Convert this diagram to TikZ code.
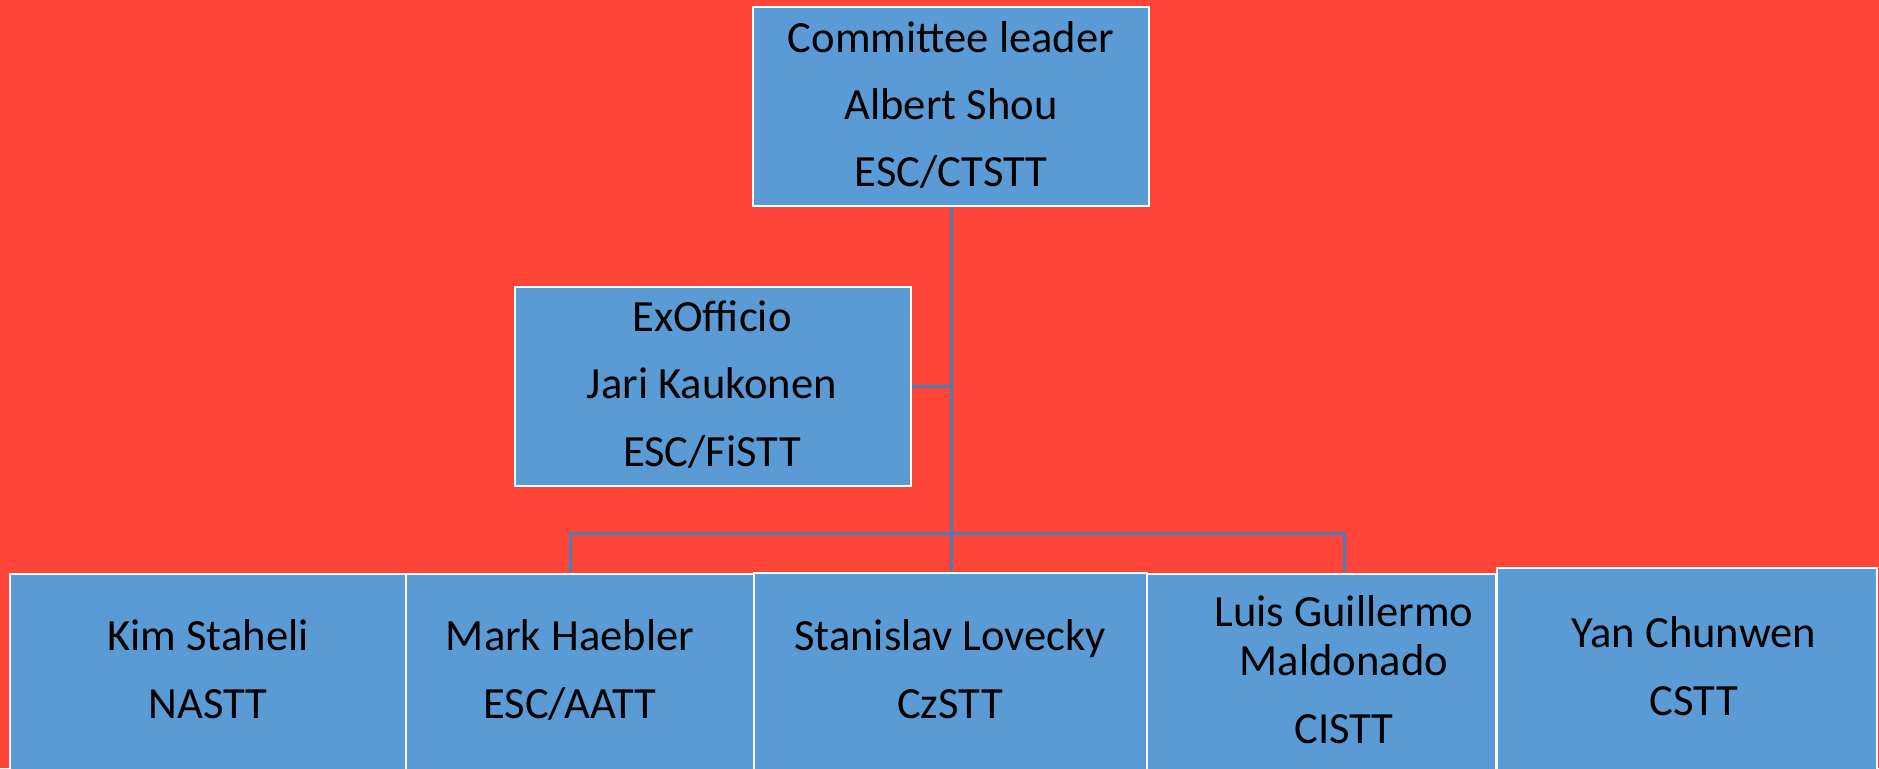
\documentclass[tikz,border=0pt]{standalone}
\usepackage{fontspec}
\setmainfont{Carlito}
\definecolor{bgred}{HTML}{FF4438}
\definecolor{boxblue}{HTML}{5B9BD5}
\definecolor{lineblue}{HTML}{4A7EBB}
\begin{document}
\begin{tikzpicture}[x=0.5pt,y=-0.5pt,
  box/.style={draw=white, line width=1.1pt, fill=boxblue, inner sep=0pt, rectangle},
  conn/.style={draw=lineblue, line width=1.5pt},
  txt/.style={anchor=base, inner sep=0pt, font=\fontsize{22.3}{27}\selectfont, text=black}]
\fill[bgred] (0,0) rectangle (1879,768);
\useasboundingbox (0,0) rectangle (1879,768);
\clip (0,0) rectangle (1879,768);
% connectors
\coordinate (jt) at (951,533);
\coordinate (bl) at (570,533);
\coordinate (br) at (1344,533);
\node[box, minimum width=198pt, minimum height=99.5pt] (top) at (951,106.5) {};
\node[box, minimum width=198pt, minimum height=99.5pt] (ex) at (713,386.5) {};
\node[box, minimum width=198pt, minimum height=113pt] (b1) at (208,687) {};
\node[box, minimum width=174pt, minimum height=113pt] (b2) at (580,687) {};
\node[box, minimum width=196.5pt, minimum height=113.5pt] (b3) at (950.5,686.5) {};
\node[box, minimum width=174.5pt, minimum height=113pt] (b4) at (1321.5,687) {};
\node[box, minimum width=190pt, minimum height=116pt] (b5) at (1687,684) {};
\draw[conn] (top.south) -- (jt) -- (jt |- b3.north);
\draw[conn] (ex.east) -- (ex.east -| top.south);
\draw[conn] (bl |- b2.north) -- (bl) -- (br) -- (br |- b4.north);
% texts
\node[txt] (t1) at (951,52) {Committee leader};
\node[txt] (t2) at (951,119) {Albert Shou};
\node[txt] (t3) at (951,186) {ESC/CTSTT};
\node[txt] (e1) at (712,331) {ExOfficio};
\node[txt] (e2) at (712,398) {Jari Kaukonen};
\node[txt] (e3) at (712,466) {ESC/FiSTT};
\node[txt] (k1) at (208,650) {Kim Staheli};
\node[txt] (k2) at (208,718) {NASTT};
\node[txt] (m1) at (570,650) {Mark Haebler};
\node[txt] (m2) at (570,718) {ESC/AATT};
\node[txt] (s1) at (950,650) {Stanislav Lovecky};
\node[txt] (s2) at (950,718) {CzSTT};
\node[txt] (l1) at (1344,626) {Luis Guillermo};
\node[txt] (l2) at (1344,675) {Maldonado};
\node[txt] (l3) at (1344,743) {CISTT};
\node[txt] (y1) at (1694,647) {Yan Chunwen};
\node[txt] (y2) at (1694,715) {CSTT};
\end{tikzpicture}
\end{document}
